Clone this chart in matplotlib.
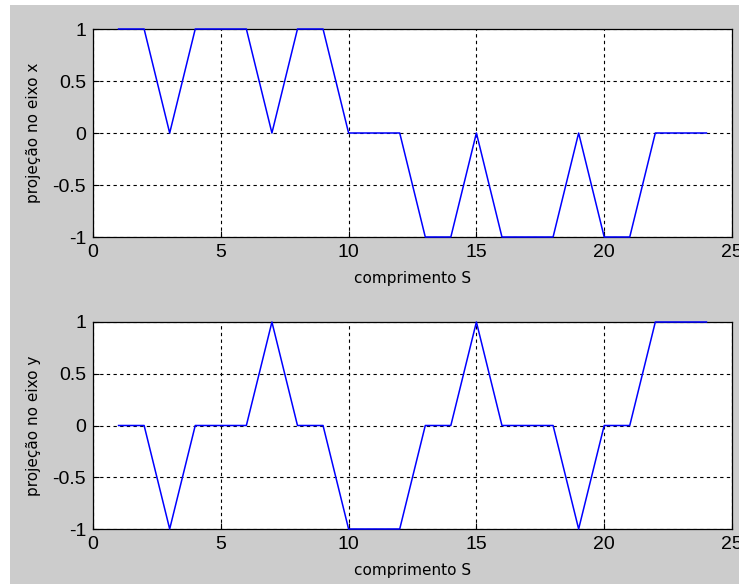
import matplotlib
matplotlib.use('Agg')
import matplotlib.pyplot as plt
from matplotlib.patches import Rectangle

# comprimento S (eixo x comum)
s = [1, 2, 3, 4, 5, 6, 7, 8, 9, 10, 11, 12, 13, 14, 15, 16, 17, 18, 19, 20, 21, 22, 23, 24]

# projecoes em x e y
proj_x = [1, 1, 0, 1, 1, 1, 0, 1, 1, 0, 0, 0, -1, -1, 0, -1, -1, -1, 0, -1, -1, 0, 0, 0]
proj_y = [0, 0, -1, 0, 0, 0, 1, 0, 0, -1, -1, -1, 0, 0, 1, 0, 0, 0, -1, 0, 0, 1, 1, 1]

x_ticks = [0, 5, 10, 15, 20, 25]
y_ticks = [-1, -0.5, 0, 0.5, 1]
y_tick_labels = ['-1', '-0.5', '0', '0.5', '1']

plt.rcParams['font.family'] = ['Liberation Sans', 'DejaVu Sans']

fig = plt.figure(figsize=(7.39, 5.84), dpi=100)
fig.patch.set_facecolor('white')

# fundo cinza estilo MATLAB
fig.patches.append(Rectangle((10 / 739, 0), 1, 1 - 5 / 584, transform=fig.transFigure,
                             facecolor='#cccccc', edgecolor='none', zorder=-10))

ax1 = fig.add_axes([93 / 739, 1 - 237 / 584, 639 / 739, 208 / 584])
ax2 = fig.add_axes([93 / 739, 1 - 529 / 584, 639 / 739, 207 / 584])

for ax, vals, lab in [(ax1, proj_x, 'projeção no eixo x'), (ax2, proj_y, 'projeção no eixo y')]:
    ax.plot(s, vals, color='#0000ff', linewidth=1.1, zorder=5, clip_on=False)
    ax.set_xlim(0, 25)
    ax.set_ylim(-1, 1)
    ax.set_xticks(x_ticks)
    ax.set_yticks(y_ticks)
    ax.set_yticklabels(y_tick_labels)
    ax.grid(True, color='black', linestyle=(0, (3, 3)), linewidth=0.8)
    ax.tick_params(direction='in', length=4, width=0.8, labelsize=14, pad=5)
    for sp in ax.spines.values():
        sp.set_linewidth(0.9)
        sp.set_zorder(4)
    ax.set_xlabel('comprimento S', fontsize=11, family='DejaVu Sans', labelpad=7)
    ax.set_ylabel(lab, fontsize=11, family='DejaVu Sans', labelpad=8)
    ax.set_facecolor('white')

fig.savefig('out.png', dpi=100, facecolor=fig.get_facecolor())
